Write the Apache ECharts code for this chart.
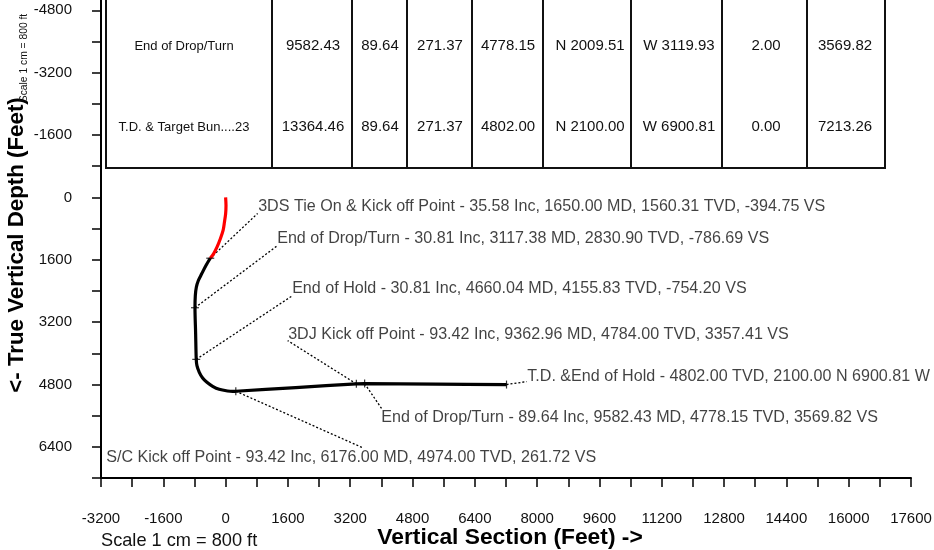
<!DOCTYPE html>
<html><head><meta charset="utf-8">
<script src="https://cdn.jsdelivr.net/npm/echarts@6/dist/echarts.min.js"></script>
<style>html,body{margin:0;padding:0;background:#fff}#c{width:934px;height:550px}</style>
</head><body><div id="c"></div>
<script>
// ---- data ----
const surveyVS  = [0, 10, 0, -30, -65, -135, -222, -310, -394.75];
const surveyTVD = [0, 206, 420, 634, 848, 1062, 1276, 1447, 1560.31];

const planVS  = [-394.75, -505, -615, -700, -752, -778, -786.69, -770, -754.2, -736, -676, -590, -480, -333, -165, 50, 180, 261.72, 1800, 3357.41, 3569.82, 5400, 7213.26];
const planTVD = [1560.31, 1747, 1961, 2132, 2304, 2518, 2830.9, 3490, 4155.83, 4316, 4488, 4633, 4745, 4848, 4925, 4968, 4978, 4974, 4879, 4784, 4778.15, 4790, 4802];

const annotText = [
  '3DS Tie On & Kick off Point - 35.58 Inc, 1650.00 MD, 1560.31 TVD, -394.75 VS',
  'End of Drop/Turn - 30.81 Inc, 3117.38 MD, 2830.90 TVD, -786.69 VS',
  'End of Hold - 30.81 Inc, 4660.04 MD, 4155.83 TVD, -754.20 VS',
  '3DJ Kick off Point - 93.42 Inc, 9362.96 MD, 4784.00 TVD, 3357.41 VS',
  'T.D. &End of Hold - 4802.00 TVD, 2100.00 N 6900.81 W',
  'End of Drop/Turn - 89.64 Inc, 9582.43 MD, 4778.15 TVD, 3569.82 VS',
  'S/C Kick off Point - 93.42 Inc, 6176.00 MD, 4974.00 TVD, 261.72 VS'
];
const annotVS  = [-394.75, -786.69, -754.2, 3357.41, 7213.26, 3569.82, 261.72];
const annotTVD = [1560.31, 2830.9, 4155.83, 4784, 4802, 4778.15, 4974];
const leaderVS  = [822, 1336, 1721, 1593, 7733, 4008, 3520];
const leaderTVD = [411, 1233, 2518, 3674, 4727, 5421, 6423];

const tableLabels = ['End of Drop/Turn', 'T.D. & Target Bun....23'];
const tableMD   = ['9582.43', '13364.46'];
const tableInc  = ['89.64', '89.64'];
const tableAzi  = ['271.37', '271.37'];
const tableTVD  = ['4778.15', '4802.00'];
const tableNS   = ['N 2009.51', 'N 2100.00'];
const tableEW   = ['W 3119.93', 'W 6900.81'];
const tableDLeg = ['2.00', '0.00'];
const tableVSec = ['3569.82', '7213.26'];

const xMin = -3200, xMax = 17600, yMin = -6400, yMax = 7200, tickStep = 800, labelStep = 1600;
const xTitle = 'Vertical Section (Feet) ->';
const yTitle = '<- True Vertical Depth (Feet)';
const scaleText = 'Scale 1 cm = 800 ft';

// ---- layout/style ----
const FONT = '"Liberation Sans", Arial, sans-serif';
const labelOffsets = [[1,-6],[0,-6],[0,-6],[1,-6],[1,-5],[0,9],[-256,10]];
const markerHoriz = [true, true, true, false, false, false, false];

const chart = echarts.init(document.getElementById('c'));

const colBounds = [106, 272, 352, 407, 472, 543, 631, 722, 807, 885];
const colCenters = [184, 313, 380, 440, 508, 590, 679, 766, 845];
const rowCenters = [46, 127];
const tableTop = -20, tableBottom = 168;
const graphics = [];
graphics.push({type:'rect', z:10, shape:{x:colBounds[0], y:tableTop, width:colBounds[9]-colBounds[0], height:tableBottom-tableTop},
  style:{fill:'#fff', stroke:'#111', lineWidth:2}});
for (let i = 1; i < colBounds.length - 1; i++) {
  graphics.push({type:'line', z:11, shape:{x1:colBounds[i], y1:tableTop, x2:colBounds[i], y2:tableBottom-1}, style:{stroke:'#111', lineWidth:2}});
}
const cols = [tableLabels, tableMD, tableInc, tableAzi, tableTVD, tableNS, tableEW, tableDLeg, tableVSec];
cols.forEach((col, ci) => {
  col.forEach((txt, ri) => {
    graphics.push({type:'text', z:12, x: colCenters[ci], y: rowCenters[ri],
      style:{text: txt, fill:'#111', font: (ci === 0 ? '13px ' : '15px ') + FONT, textAlign:'center', textVerticalAlign:'middle'}});
  });
});
graphics.push({type:'text', z:12, x:510, y:538, style:{text:xTitle, fill:'#000', font:'bold 22.8px ' + FONT, textAlign:'center', textVerticalAlign:'middle'}});
graphics.push({type:'text', z:12, x:16.5, y:245, rotation:Math.PI/2, style:{text:yTitle, fill:'#000', font:'bold 22.3px ' + FONT, textAlign:'center', textVerticalAlign:'middle'}});
graphics.push({type:'text', z:12, x:101, y:541, style:{text:scaleText, fill:'#111', font:'18.2px ' + FONT, textAlign:'left', textVerticalAlign:'middle'}});
graphics.push({type:'text', z:12, x:24.5, y:58, rotation:Math.PI/2, style:{text:scaleText, fill:'#111', font:'10.3px ' + FONT, textAlign:'center', textVerticalAlign:'middle'}});

const fmt = v => (Math.round(v) % labelStep === 0 ? String(v) : '');

const option = {
  animation: false,
  backgroundColor: '#fff',
  grid: {left: 101, right: 23, top: -52, bottom: 72, containLabel: false, outerBoundsMode: 'none'},
  xAxis: {
    type: 'value', min: xMin, max: xMax, interval: tickStep,
    axisLine: {show: true, onZero: false, lineStyle: {color: '#000', width: 2}},
    axisTick: {show: true, length: 9, lineStyle: {color: '#000', width: 1.5}},
    axisLabel: {formatter: fmt, margin: 33, fontSize: 15, color: '#111', fontFamily: FONT, showMaxLabel: true, showMinLabel: true},
    splitLine: {show: false}
  },
  yAxis: {
    type: 'value', inverse: true, min: yMin, max: yMax, interval: tickStep,
    axisLine: {show: true, onZero: false, lineStyle: {color: '#000', width: 2}},
    axisTick: {show: true, length: 9, lineStyle: {color: '#000', width: 1.5}},
    axisLabel: {formatter: fmt, margin: 29, fontSize: 15, color: '#111', fontFamily: FONT},
    splitLine: {show: false}
  },
  graphic: graphics,
  series: [
    {
      type: 'lines', coordinateSystem: 'cartesian2d', z: 3, silent: true,
      lineStyle: {color: '#000', width: 1.3, type: [2, 2], opacity: 1},
      data: annotVS.map((v, i) => ({coords: [[v, annotTVD[i]], [leaderVS[i], leaderTVD[i]]]}))
    },
    {
      type: 'line', name: 'plan', z: 5, symbol: 'none', smooth: 0.3,
      lineStyle: {color: '#000', width: 3.2}, clip: false,
      data: planVS.map((v, i) => [v, planTVD[i]])
    },
    {
      type: 'line', name: 'survey', z: 6, symbol: 'none', smooth: 0.3,
      lineStyle: {color: '#ff0000', width: 3.2},
      data: surveyVS.map((v, i) => [v, surveyTVD[i]])
    },
    {
      type: 'scatter', z: 7, silent: true, symbol: 'rect',
      itemStyle: {color: '#000'},
      data: annotVS.map((v, i) => ({value: [v, annotTVD[i]], symbolSize: markerHoriz[i] ? [8, 1.2] : [1.2, 8]}))
    },
    {
      type: 'scatter', z: 8, silent: true, symbolSize: 1,
      itemStyle: {color: 'rgba(0,0,0,0)'},
      data: leaderVS.map((v, i) => ({
        value: [v, leaderTVD[i]],
        label: {show: true, formatter: annotText[i], position: labelOffsets[i], align: 'left', verticalAlign: 'middle',
          fontSize: 16.1, color: '#111', fontFamily: FONT}
      }))
    }
  ]
};
chart.setOption(option);
</script>
</body></html>
